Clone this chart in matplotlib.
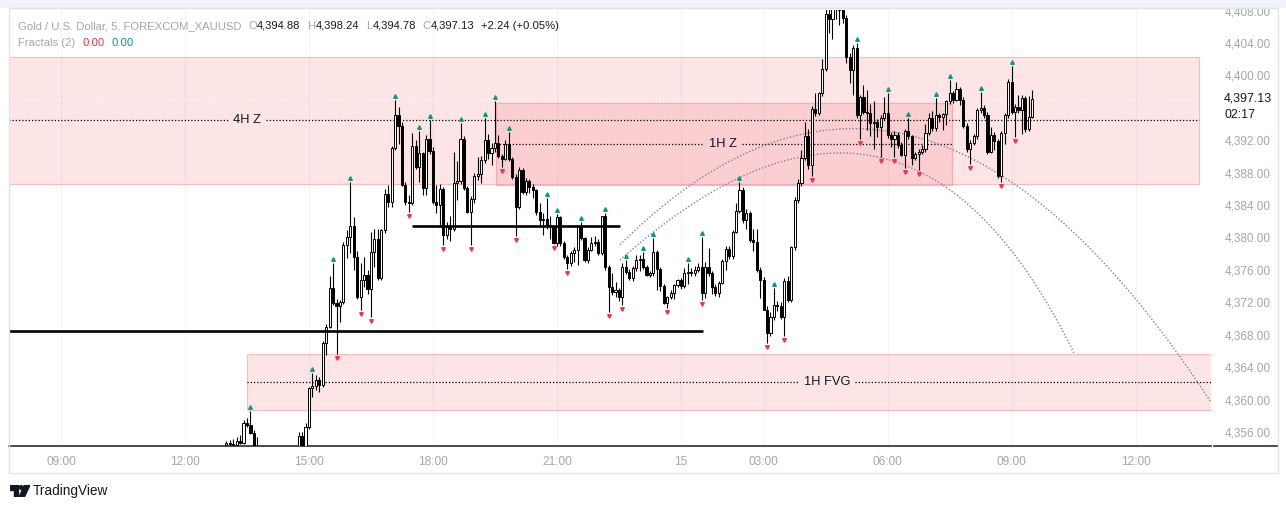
import numpy as np
import matplotlib
matplotlib.use("Agg")
import matplotlib.pyplot as plt
from matplotlib.patches import Rectangle, Polygon, Ellipse
from matplotlib.lines import Line2D

plt.rcParams['font.family'] = ['Liberation Sans', 'DejaVu Sans']

# 5 minute bars, bar 0 = 09:00 on the 14th (one hour session break after 00:00)
first_bar = 48
opens = [
    4354.4, 4354.6, 4354.5, 4354.4, 4354.9, 4354.7, 4357.1, 4356.9, 4355.9, 4353.9,
    4353.0, 4352.2, 4351.3, 4350.8, 4351.5, 4352.1, 4351.6, 4353.1, 4352.6, 4353.4,
    4353.0, 4353.5, 4355.5, 4354.3, 4356.6, 4361.4, 4361.7, 4362.4, 4361.8, 4367.0,
    4369.0, 4373.8, 4371.9, 4371.6, 4372.0, 4379.1, 4380.1, 4381.4, 4377.6, 4372.7,
    4374.8, 4375.4, 4373.6, 4378.2, 4379.8, 4375.0, 4380.9, 4385.4, 4384.4, 4391.0,
    4395.1, 4393.8, 4386.5, 4384.4, 4384.2, 4391.3, 4388.7, 4390.4, 4386.1, 4392.2,
    4390.7, 4384.4, 4384.0, 4386.0, 4380.3, 4381.3, 4381.1, 4386.7, 4387.0, 4392.2,
    4386.1, 4383.1, 4384.7, 4387.6, 4387.8, 4389.5, 4392.0, 4390.4, 4391.0, 4391.7,
    4390.0, 4389.7, 4391.5, 4389.7, 4387.5, 4383.8, 4388.3, 4385.6, 4387.0, 4386.2,
    4385.8, 4383.1, 4382.1, 4382.3, 4381.5, 4381.3, 4379.3, 4382.5, 4379.3, 4377.6,
    4376.9, 4378.1, 4378.5, 4381.3, 4379.9, 4377.2, 4378.5, 4379.3, 4379.4, 4378.1,
    4382.6, 4376.3, 4373.9, 4373.3, 4373.5, 4372.6, 4376.4, 4375.8, 4375.0, 4376.2,
    4377.2, 4377.3, 4376.4, 4375.4, 4375.6, 4378.2, 4376.1, 4374.0, 4371.9, 4372.6,
    4373.2, 4374.1, 4374.7, 4374.0, 4375.6, 4375.8, 4375.6, 4376.0, 4376.4, 4373.2,
    4376.4, 4375.6, 4373.9, 4373.1, 4374.4, 4377.1, 4378.6, 4377.7, 4380.7, 4383.3,
    4385.9, 4382.2, 4383.0, 4379.7, 4379.5, 4376.0, 4374.8, 4371.1, 4368.2, 4370.2,
    4371.7, 4371.6, 4370.2, 4374.6, 4372.3, 4378.8, 4384.6, 4386.7, 4389.8, 4392.5,
    4388.9, 4395.9, 4395.4, 4397.8, 4400.8, 4407.6, 4406.9, 4408.2, 4408.6, 4408.1,
    4407.1, 4402.3, 4400.7, 4403.4, 4395.1, 4397.3, 4395.5, 4395.3, 4394.1, 4394.3,
    4393.6, 4394.8, 4395.3, 4392.6, 4392.1, 4392.7, 4391.4, 4390.2, 4393.1, 4392.5,
    4389.8, 4390.3, 4390.6, 4390.9, 4392.9, 4394.7, 4393.5, 4395.1, 4394.9, 4395.2,
    4396.8, 4397.8, 4397.0, 4398.3, 4397.0, 4393.8, 4390.9, 4391.7, 4392.5, 4395.7,
    4396.0, 4395.1, 4390.6, 4392.7, 4391.9, 4387.6, 4392.9, 4395.1, 4399.2, 4395.5,
    4396.1, 4395.7, 4397.2, 4393.4, 4394.88,
]
highs = [
    4354.9, 4355.0, 4355.1, 4355.4, 4355.6, 4357.5, 4357.7, 4358.6, 4356.3, 4355.4,
    4353.6, 4352.8, 4352.0, 4351.9, 4352.6, 4352.9, 4353.5, 4353.9, 4353.8, 4354.0,
    4354.1, 4356.0, 4356.0, 4357.1, 4361.6, 4363.3, 4363.0, 4362.8, 4367.2, 4369.3,
    4375.2, 4376.9, 4372.4, 4372.3, 4379.5, 4380.9, 4386.8, 4382.5, 4378.3, 4376.9,
    4377.6, 4376.0, 4380.7, 4381.0, 4381.0, 4381.1, 4386.0, 4386.5, 4391.3, 4397.0,
    4396.1, 4394.2, 4386.8, 4385.3, 4392.9, 4392.0, 4393.1, 4390.6, 4392.6, 4394.5,
    4391.2, 4386.5, 4386.6, 4386.2, 4381.9, 4382.6, 4390.6, 4389.4, 4394.1, 4392.5,
    4386.4, 4385.1, 4387.9, 4389.9, 4390.1, 4394.7, 4392.8, 4391.7, 4396.8, 4392.6,
    4390.3, 4392.0, 4393.0, 4389.9, 4387.8, 4388.7, 4388.6, 4387.4, 4387.2, 4386.6,
    4386.0, 4384.3, 4383.0, 4384.9, 4382.6, 4381.6, 4382.9, 4382.7, 4379.6, 4377.9,
    4378.3, 4378.8, 4381.6, 4381.9, 4380.1, 4378.8, 4380.1, 4380.2, 4379.8, 4382.7,
    4383.0, 4376.6, 4375.6, 4374.5, 4373.8, 4376.8, 4377.2, 4376.1, 4376.5, 4377.8,
    4377.8, 4378.2, 4376.6, 4375.9, 4379.9, 4378.5, 4376.4, 4374.3, 4372.8, 4373.5,
    4374.3, 4374.9, 4375.0, 4376.2, 4376.9, 4376.2, 4376.5, 4376.8, 4380.0, 4377.0,
    4378.7, 4375.9, 4374.2, 4374.6, 4377.4, 4378.9, 4379.0, 4380.9, 4384.3, 4386.8,
    4386.2, 4383.5, 4383.3, 4381.0, 4381.0, 4376.4, 4375.1, 4371.5, 4370.8, 4373.8,
    4372.2, 4372.0, 4375.0, 4375.2, 4378.9, 4385.0, 4387.2, 4390.8, 4394.3, 4393.4,
    4396.2, 4397.8, 4398.0, 4402.0, 4408.5, 4409.3, 4410.0, 4410.5, 4410.2, 4409.0,
    4407.5, 4402.8, 4403.7, 4404.0, 4397.6, 4398.8, 4398.2, 4396.5, 4396.9, 4394.6,
    4395.1, 4397.3, 4397.8, 4393.0, 4393.2, 4393.0, 4391.8, 4393.4, 4394.7, 4392.7,
    4390.6, 4390.9, 4391.4, 4394.0, 4395.4, 4395.6, 4397.2, 4395.4, 4395.3, 4397.0,
    4399.4, 4398.1, 4399.2, 4398.6, 4397.3, 4394.1, 4392.0, 4392.8, 4396.0, 4398.0,
    4396.4, 4395.5, 4393.6, 4393.0, 4392.2, 4393.2, 4395.4, 4399.6, 4401.2, 4396.5,
    4397.6, 4397.6, 4397.5, 4397.5, 4398.24,
]
lows = [
    4354.0, 4354.2, 4354.1, 4354.2, 4354.5, 4354.5, 4356.6, 4355.7, 4353.4, 4352.6,
    4351.8, 4350.9, 4350.2, 4350.3, 4351.0, 4351.2, 4351.4, 4352.3, 4352.2, 4352.6,
    4352.5, 4353.2, 4353.8, 4354.0, 4356.4, 4360.3, 4361.2, 4360.9, 4361.5, 4365.5,
    4368.8, 4371.7, 4365.6, 4369.6, 4371.8, 4377.5, 4378.1, 4376.0, 4372.4, 4371.0,
    4373.9, 4373.0, 4370.2, 4376.4, 4374.8, 4374.7, 4380.6, 4383.8, 4383.8, 4390.8,
    4391.5, 4386.3, 4384.0, 4383.1, 4384.0, 4388.4, 4386.8, 4385.3, 4385.2, 4390.3,
    4384.1, 4383.0, 4381.5, 4379.1, 4379.8, 4379.6, 4380.8, 4384.6, 4386.6, 4385.9,
    4383.0, 4379.1, 4384.3, 4387.1, 4386.7, 4389.2, 4389.7, 4389.0, 4390.5, 4389.8,
    4388.7, 4389.5, 4389.4, 4387.2, 4380.2, 4383.5, 4385.4, 4385.3, 4385.5, 4384.9,
    4382.8, 4381.4, 4380.3, 4381.0, 4379.8, 4379.2, 4379.0, 4379.0, 4377.4, 4376.1,
    4376.5, 4377.0, 4376.6, 4379.7, 4377.0, 4376.8, 4378.3, 4378.9, 4377.9, 4377.8,
    4376.0, 4370.8, 4372.9, 4372.7, 4372.2, 4371.7, 4375.5, 4374.8, 4374.6, 4375.9,
    4375.9, 4376.1, 4375.2, 4375.1, 4375.3, 4373.5, 4373.4, 4371.8, 4371.3, 4372.4,
    4372.4, 4373.9, 4373.6, 4373.8, 4374.2, 4375.3, 4375.2, 4375.8, 4372.3, 4372.5,
    4375.3, 4373.0, 4372.8, 4372.6, 4374.2, 4376.0, 4377.3, 4377.4, 4380.5, 4383.0,
    4381.8, 4381.0, 4379.4, 4378.3, 4375.8, 4372.5, 4371.0, 4367.0, 4367.9, 4369.8,
    4370.9, 4369.9, 4367.8, 4372.0, 4372.0, 4378.5, 4384.3, 4386.4, 4389.5, 4388.5,
    4387.6, 4395.0, 4395.1, 4397.5, 4400.5, 4405.2, 4404.5, 4407.0, 4406.2, 4406.5,
    4401.5, 4399.1, 4397.6, 4394.8, 4392.1, 4395.2, 4393.3, 4392.5, 4390.9, 4392.4,
    4389.9, 4394.5, 4392.3, 4391.2, 4389.9, 4391.0, 4390.0, 4388.6, 4392.2, 4389.0,
    4389.5, 4388.3, 4390.3, 4390.6, 4392.6, 4393.2, 4393.2, 4394.3, 4393.3, 4393.9,
    4396.5, 4396.6, 4396.8, 4396.3, 4393.5, 4390.6, 4389.1, 4391.4, 4392.2, 4395.4,
    4394.8, 4390.3, 4390.4, 4390.8, 4387.4, 4386.9, 4391.5, 4394.8, 4395.2, 4392.4,
    4395.3, 4392.8, 4393.0, 4393.2, 4394.78,
]
closes = [
    4354.6, 4354.5, 4354.4, 4354.9, 4354.7, 4357.1, 4356.9, 4355.9, 4353.9, 4353.0,
    4352.2, 4351.3, 4350.8, 4351.5, 4352.1, 4351.6, 4353.1, 4352.6, 4353.4, 4353.0,
    4353.5, 4355.5, 4354.3, 4356.6, 4361.4, 4361.7, 4362.4, 4361.8, 4367.0, 4369.0,
    4373.8, 4371.9, 4371.6, 4372.0, 4379.1, 4380.1, 4381.4, 4377.6, 4372.7, 4374.8,
    4375.4, 4373.6, 4378.2, 4379.8, 4375.0, 4380.9, 4385.4, 4384.4, 4391.0, 4395.1,
    4393.8, 4386.5, 4384.4, 4384.2, 4391.3, 4388.7, 4390.4, 4386.1, 4392.2, 4390.7,
    4384.4, 4384.0, 4386.0, 4380.3, 4381.3, 4381.1, 4386.7, 4387.0, 4392.2, 4386.1,
    4383.1, 4384.7, 4387.6, 4387.8, 4389.5, 4392.0, 4390.4, 4391.0, 4391.7, 4390.0,
    4389.7, 4391.5, 4389.7, 4387.5, 4383.8, 4388.3, 4385.6, 4387.0, 4386.2, 4385.8,
    4383.1, 4382.1, 4382.3, 4381.5, 4381.3, 4379.3, 4382.5, 4379.3, 4377.6, 4376.9,
    4378.1, 4378.5, 4381.3, 4379.9, 4377.2, 4378.5, 4379.3, 4379.4, 4378.1, 4382.6,
    4376.3, 4373.9, 4373.3, 4373.5, 4372.6, 4376.4, 4375.8, 4375.0, 4376.2, 4377.2,
    4377.3, 4376.4, 4375.4, 4375.6, 4378.2, 4376.1, 4374.0, 4371.9, 4372.6, 4373.2,
    4374.1, 4374.7, 4374.0, 4375.6, 4375.8, 4375.6, 4376.0, 4376.4, 4373.2, 4376.4,
    4375.6, 4373.9, 4373.1, 4374.4, 4377.1, 4378.6, 4377.7, 4380.7, 4383.3, 4385.9,
    4382.2, 4383.0, 4379.7, 4379.5, 4376.0, 4374.8, 4371.1, 4368.2, 4370.2, 4371.7,
    4371.6, 4370.2, 4374.6, 4372.3, 4378.8, 4384.6, 4386.7, 4389.8, 4392.5, 4388.9,
    4395.9, 4395.4, 4397.8, 4400.8, 4407.6, 4406.9, 4408.2, 4408.6, 4408.1, 4407.1,
    4402.3, 4400.7, 4403.4, 4395.1, 4397.3, 4395.5, 4395.3, 4394.1, 4394.3, 4393.6,
    4394.8, 4395.3, 4392.6, 4392.1, 4392.7, 4391.4, 4390.2, 4393.1, 4392.5, 4389.8,
    4390.3, 4390.6, 4390.9, 4392.9, 4394.7, 4393.5, 4395.1, 4394.9, 4395.2, 4396.8,
    4397.8, 4397.0, 4398.3, 4397.0, 4393.8, 4390.9, 4391.7, 4392.5, 4395.7, 4396.0,
    4395.1, 4390.6, 4392.7, 4391.9, 4387.6, 4392.9, 4395.1, 4399.2, 4395.5, 4396.1,
    4395.7, 4397.2, 4393.4, 4394.89, 4397.13,
]

# Williams fractals (2) as shown on the chart, by bar number
fractal_up = [55, 73, 79, 84, 97, 104, 107, 116, 123, 126, 130, 141, 144, 151, 158,
              164, 169, 172, 182, 186, 197, 207, 231, 240, 246, 254, 258, 267, 276]
fractal_down = [80, 87, 90, 101, 111, 119, 128, 132, 143, 147, 159, 163, 176, 186,
                205, 210, 218, 232, 238, 242, 245, 249, 264, 273, 277]

tick_bars = [0, 36, 72, 108, 144, 180, 204, 240, 276, 312]
tick_labels = ['09:00', '12:00', '15:00', '18:00', '21:00', '15', '03:00', '06:00', '09:00', '12:00']
price_ticks = [4356, 4360, 4364, 4368, 4372, 4376, 4380, 4384, 4388, 4392, 4400, 4404, 4408]

# drawn zones (bar range and price range)
zone_names = ['4H Z', '1H Z', '1H FVG']
zone_start = [-30, 126.3, 54.0]
zone_end = [330.4, 258.8, 345]
zone_low = [4386.6, 4386.5, 4358.7]
zone_high = [4402.3, 4396.6, 4365.6]

# horizontal levels
level_price = [4368.5, 4381.45]
level_start = [-30, 101.9]
level_end = [186.5, 162.3]

# curve tool control points (bar, price)
curve_upper = [(162.3, 4379.1), (250.9, 4416.6), (339.4, 4356.0)]
curve_lower = [(162.3, 4377.2), (244.8, 4408.5), (294.1, 4365.75)]

change = 2.24
change_pct = 0.05
countdown = '02:17'

GRAY = '#a3a6af'
DARK = '#131722'
PINK = (242 / 255, 54 / 255, 69 / 255)
FS = 8.3

W, H = 1286, 509
fig = plt.figure(figsize=(W / 100, H / 100), dpi=100)
ax = fig.add_axes([9 / W, 1 - 446 / H, (1211 - 9) / W, (446 - 10) / H])

ax.set_xlim(-15.1, 333.9)
ax.set_ylim(4354.27, 4408.07)

# faint vertical grid
for b in tick_bars:
    ax.axvline(b, color='#f4f5f7', lw=0.8, zorder=0)

# zones
zone_labels = []
label_bars = [54.0, 192.2, 222.4]
for i in range(len(zone_names)):
    ax.add_patch(Rectangle((zone_start[i], zone_low[i]), zone_end[i] - zone_start[i],
                           zone_high[i] - zone_low[i], facecolor=PINK + (0.13,),
                           edgecolor=PINK + (0.28,), lw=0.8, zorder=1))
    mid = (zone_low[i] + zone_high[i]) / 2
    t = ax.text(label_bars[i], mid, zone_names[i], ha='center', va='center',
                fontsize=9.3, color=DARK, zorder=6)
    zone_labels.append(t)

# last price line
ax.axhline(closes[-1], color='white', lw=1.0, ls=(0, (1, 2)), zorder=2)

# curves (quadratic bezier)
t = np.linspace(0, 1, 300)
for pts in [curve_upper, curve_lower]:
    (x0, y0), (x1, y1), (x2, y2) = pts
    bx = (1 - t) ** 2 * x0 + 2 * t * (1 - t) * x1 + t ** 2 * x2
    by = (1 - t) ** 2 * y0 + 2 * t * (1 - t) * y1 + t ** 2 * y2
    ax.plot(bx, by, color='#80838d', lw=1.0, ls=(0, (1, 1.4)), zorder=3)

# candles
x = np.arange(first_bar, first_bar + len(closes))
o = np.array(opens)
h = np.array(highs)
l = np.array(lows)
c = np.array(closes)
up = c >= o
body_lo = np.minimum(o, c)
body_h = np.maximum(np.abs(c - o), 0.07)
ax.vlines(x, l, h, color='black', lw=0.8, zorder=4)
ax.bar(x[up], body_h[up], bottom=body_lo[up], width=0.62, facecolor='white',
       edgecolor='black', lw=0.7, zorder=4)
ax.bar(x[~up], body_h[~up], bottom=body_lo[~up], width=0.62, facecolor='black',
       edgecolor='black', lw=0.7, zorder=4)

# fractals
fu = np.array(fractal_up) - first_bar
fd = np.array(fractal_down) - first_bar
ax.plot(x[fu], h[fu] + 0.5, ls='none', marker='^', ms=2.6, color='#089981', zorder=5)
ax.plot(x[fd], l[fd] - 0.5, ls='none', marker='v', ms=2.6, color='#f23645', zorder=5)

# black levels
for i in range(len(level_price)):
    ax.plot([level_start[i], level_end[i]], [level_price[i]] * 2, color='black',
            lw=1.9, solid_capstyle='butt', zorder=5)

# zone midlines with a gap for the label
fig.canvas.draw()
inv = ax.transData.inverted()
for i, tx in enumerate(zone_labels):
    bb = tx.get_window_extent()
    gx0 = inv.transform((bb.x0 - 5, 0))[0]
    gx1 = inv.transform((bb.x1 + 5, 0))[0]
    mid = (zone_low[i] + zone_high[i]) / 2
    for a, b in [(zone_start[i], gx0), (gx1, zone_end[i])]:
        ax.plot([a, b], [mid, mid], color='black', lw=0.9, ls=(0, (1, 1.6)), zorder=2)

# axes styling
for s in ['top', 'left', 'right']:
    ax.spines[s].set_visible(False)
ax.spines['bottom'].set_color('#2a2e39')
ax.spines['bottom'].set_linewidth(1.2)
ax.set_xticks(tick_bars)
ax.set_xticklabels(tick_labels)
ax.set_yticks(price_ticks)
ax.set_yticklabels(['{:,.2f}'.format(p) for p in price_ticks])
ax.yaxis.tick_right()
ax.tick_params(axis='x', length=0, pad=7, labelsize=FS + 0.3, labelcolor=GRAY)
ax.tick_params(axis='y', length=0, pad=10, labelsize=FS + 0.2, labelcolor=GRAY)

# price label and countdown
ax.text(1.011, closes[-1], '{:,.2f}'.format(closes[-1]), transform=ax.get_yaxis_transform(),
        ha='left', va='center', fontsize=FS + 0.6, color=DARK, clip_on=False)
ax.annotate(countdown, xy=(1.011, closes[-1]), xycoords=ax.get_yaxis_transform(),
            xytext=(0, -12), textcoords='offset points', ha='left', va='center',
            fontsize=FS + 0.6, color=DARK)

# header legend, pieces chained one after another
line1 = [('Gold / U.S. Dollar, 5, FOREXCOM_XAUUSD', GRAY, 0),
         ('O', GRAY, 5), ('{:,.2f}'.format(opens[-1]), DARK, 0),
         ('H', GRAY, 5), ('{:,.2f}'.format(highs[-1]), DARK, 0),
         ('L', GRAY, 5), ('{:,.2f}'.format(lows[-1]), DARK, 0),
         ('C', GRAY, 5), ('{:,.2f}'.format(closes[-1]), DARK, 0),
         ('{:+.2f} ({:+.2f}%)'.format(change, change_pct), DARK, 5)]
line2 = [('Fractals (2)', GRAY, 0), ('0.00', '#f23645', 5), ('0.00', '#089981', 5)]

HFS = 8.1
for pieces, ypix in [(line1, 29), (line2, 46)]:
    prev = fig.text(18 / W, 1 - ypix / H, pieces[0][0], color=pieces[0][1],
                    fontsize=HFS, va='baseline')
    for txt, col, gap in pieces[1:]:
        prev = fig.add_artist(plt.Annotation(txt, xy=(1, 0), xycoords=prev,
                                             xytext=(gap, 0), textcoords='offset points',
                                             color=col, fontsize=HFS, va='bottom', ha='left',
                                             annotation_clip=False))

# top strip and panel frame
fig.add_artist(Rectangle((0, 1 - 8 / H), 1, 8 / H, transform=fig.transFigure,
                         facecolor='#f0f3fa', edgecolor='none', zorder=20))
fig.add_artist(Rectangle((9 / W, 1 - 473 / H), (1278 - 9) / W, (473 - 8) / H,
                         transform=fig.transFigure, fill=False, edgecolor='#e0e3eb',
                         lw=1.0, zorder=20))
fig.add_artist(Line2D([1214 / W, 1278 / W], [1 - 446 / H] * 2, transform=fig.transFigure,
                      color='#2a2e39', lw=1.2))

# TradingView mark
lax = fig.add_axes([10 / W, 1 - 497 / H, 20 / W, 12 / H])
lax.set_xlim(0, 1)
lax.set_ylim(0, 1)
lax.axis('off')
lax.add_patch(Polygon([(0, 1), (0.42, 1), (0.42, 0), (0.2, 0), (0.2, 0.6), (0, 0.6)],
                      closed=True, color=DARK))
lax.add_patch(Ellipse((0.55, 0.8), 0.15, 0.32, color=DARK))
lax.add_patch(Polygon([(0.72, 1), (1.0, 1), (0.72, 0), (0.46, 0)], closed=True, color=DARK))
fig.text(33 / W, 1 - 491 / H, 'TradingView', fontsize=9.8, color=DARK, va='center')

fig.savefig('out.png', dpi=100, facecolor='white')
